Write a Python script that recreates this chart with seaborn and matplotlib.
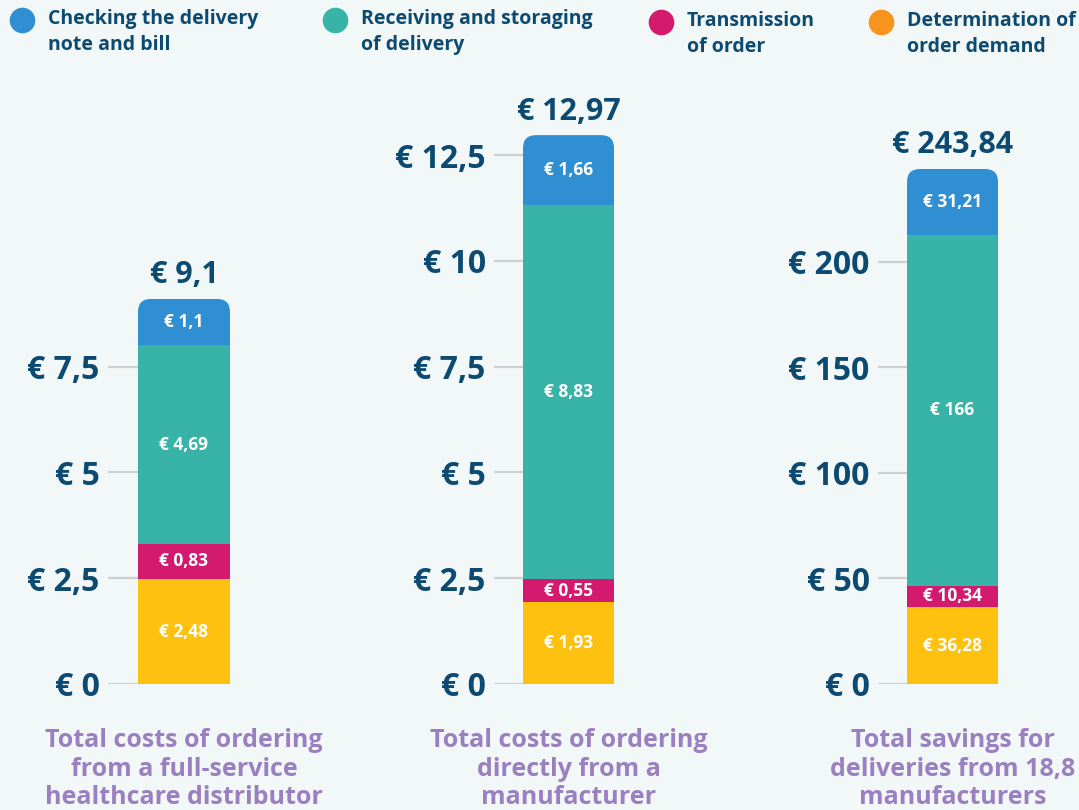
import numpy as np
import pandas as pd
import matplotlib
matplotlib.use("Agg")
import matplotlib.pyplot as plt
import seaborn as sns
from matplotlib.patches import FancyBboxPatch
from matplotlib.transforms import IdentityTransform

# ---------------- data ----------------
categories = [
    "Total costs of ordering\nfrom a full-service\nhealthcare distributor",
    "Total costs of ordering\ndirectly from a\nmanufacturer",
    "Total savings for\ndeliveries from 18,8\nmanufacturers",
]
demand = [2.48, 1.93, 36.28]          # Determination of order demand
transmission = [0.83, 0.55, 10.34]    # Transmission of order
receiving = [4.69, 8.83, 166]         # Receiving and storaging of delivery
checking = [1.1, 1.66, 31.21]         # Checking the delivery note and bill
totals = [9.1, 12.97, 243.84]
tick_values = [
    [0, 2.5, 5, 7.5],
    [0, 2.5, 5, 7.5, 10, 12.5],
    [0, 50, 100, 150, 200],
]
legend_labels = [
    "Checking the delivery\nnote and bill",
    "Receiving and storaging\nof delivery",
    "Transmission\nof order",
    "Determination of\norder demand",
]

# ---------------- style ----------------
BG = "#F1F8F7"
NAVY = "#0D4A72"
PURPLE = "#9B80C1"
C_CHECK = "#2F8FD2"
C_RECV = "#38B3A8"
C_TRANS = "#D31A6E"
C_DEM = "#FEC10F"
C_DEM_LEG = "#F7941E"

sns.set_theme(style="white")
plt.rcParams["font.family"] = ["Open Sans", "DejaVu Sans"]

W, H = 1079, 810
fig = plt.figure(figsize=(W / 100, H / 100), dpi=100, facecolor=BG)

def fmt(v):
    return "€ " + f"{v:g}".replace(".", ",")

# pixel geometry of each panel: (axes left px, bar left px, bar right px)
panels = [(108, 138, 230), (494, 523, 614), (878, 907, 998)]
ylims = [13.8, 13.8, 276.5]
y0_px, top_px = 684, 100

axes = []
for i in range(3):
    axl, bl, br = panels[i]
    ax = fig.add_axes([axl / W, (H - y0_px) / H, (br - axl) / W, (y0_px - top_px) / H])
    ax.set_facecolor("none")
    axes.append(ax)
    segs = [demand[i], transmission[i], receiving[i], checking[i]]
    cols = [C_DEM, C_TRANS, C_RECV, C_CHECK]
    cum = np.cumsum(segs)
    df = pd.DataFrame({"cat": [categories[i]], "v": [0.0]})
    # draw cumulative bars from tallest to shortest
    for k in range(3, -1, -1):
        df["v"] = [cum[k]]
        sns.barplot(data=df, x="cat", y="v", color=cols[k], saturation=1,
                    width=0.8, ax=ax, zorder=2, linewidth=0)
    bw = 0.8
    ax.set_xlim(-bw / 2 - bw * (bl - axl) / (br - bl), bw / 2)
    ax.set_ylim(0, ylims[i])
    ax.set_yticks(tick_values[i])
    ax.set_yticklabels([fmt(t) for t in tick_values[i]])
    ax.tick_params(axis="y", length=0, pad=6, labelsize=23, labelcolor=NAVY)
    for lab in ax.get_yticklabels():
        lab.set_fontweight("bold")
    ax.set_xticks([])
    ax.set_xlabel("")
    ax.set_ylabel("")
    ax.grid(axis="y", color="#CFCFCF", linewidth=1.6, zorder=0)
    ax.set_axisbelow(True)
    for s in ax.spines.values():
        s.set_visible(False)
    # segment labels
    bottoms = np.concatenate([[0], cum[:-1]])
    for b, v in zip(bottoms, segs):
        ax.text(0, b + v / 2, fmt(v), ha="center", va="center", color="white",
                fontsize=12.5, fontweight="bold", zorder=5)
    # total label
    ax.annotate(fmt(totals[i]), xy=(0, cum[-1]), xytext=(0, 17),
                textcoords="offset points", ha="center", va="center",
                fontsize=22, fontweight="bold", color=NAVY, annotation_clip=False)
    # category label
    ax.text(0, -0.075, categories[i], transform=ax.get_xaxis_transform(),
            ha="center", va="top", fontsize=18, color=PURPLE, fontweight="bold",
            linespacing=1.2)

# rounded top corners of bars
fig.canvas.draw()
for ax in axes:
    patches = list(ax.patches)
    tallest = patches[0]
    bb = tallest.get_window_extent()
    clip = FancyBboxPatch((bb.x0, bb.y0 - 30), bb.width, bb.height + 30,
                          boxstyle="round,pad=0,rounding_size=13",
                          transform=IdentityTransform())
    for p in patches:
        p.set_clip_path(clip)

# legend (manual, in pixel coordinates)
lax = fig.add_axes([0, 0, 1, 1])
lax.set_xlim(0, W)
lax.set_ylim(H, 0)
lax.axis("off")
leg_x = [22, 335, 661, 881]
leg_y = [20, 20, 22, 22]
leg_cols = [C_CHECK, C_RECV, C_TRANS, C_DEM_LEG]
for x, y, c, t in zip(leg_x, leg_y, leg_cols, legend_labels):
    lax.scatter([x], [y], s=340, color=c, linewidths=0)
    lax.text(x + 26, y + 12, t, ha="left", va="center", fontsize=14,
             color=NAVY, fontweight="bold", linespacing=1.45)

fig.savefig("out.png", dpi=100, facecolor=BG)
